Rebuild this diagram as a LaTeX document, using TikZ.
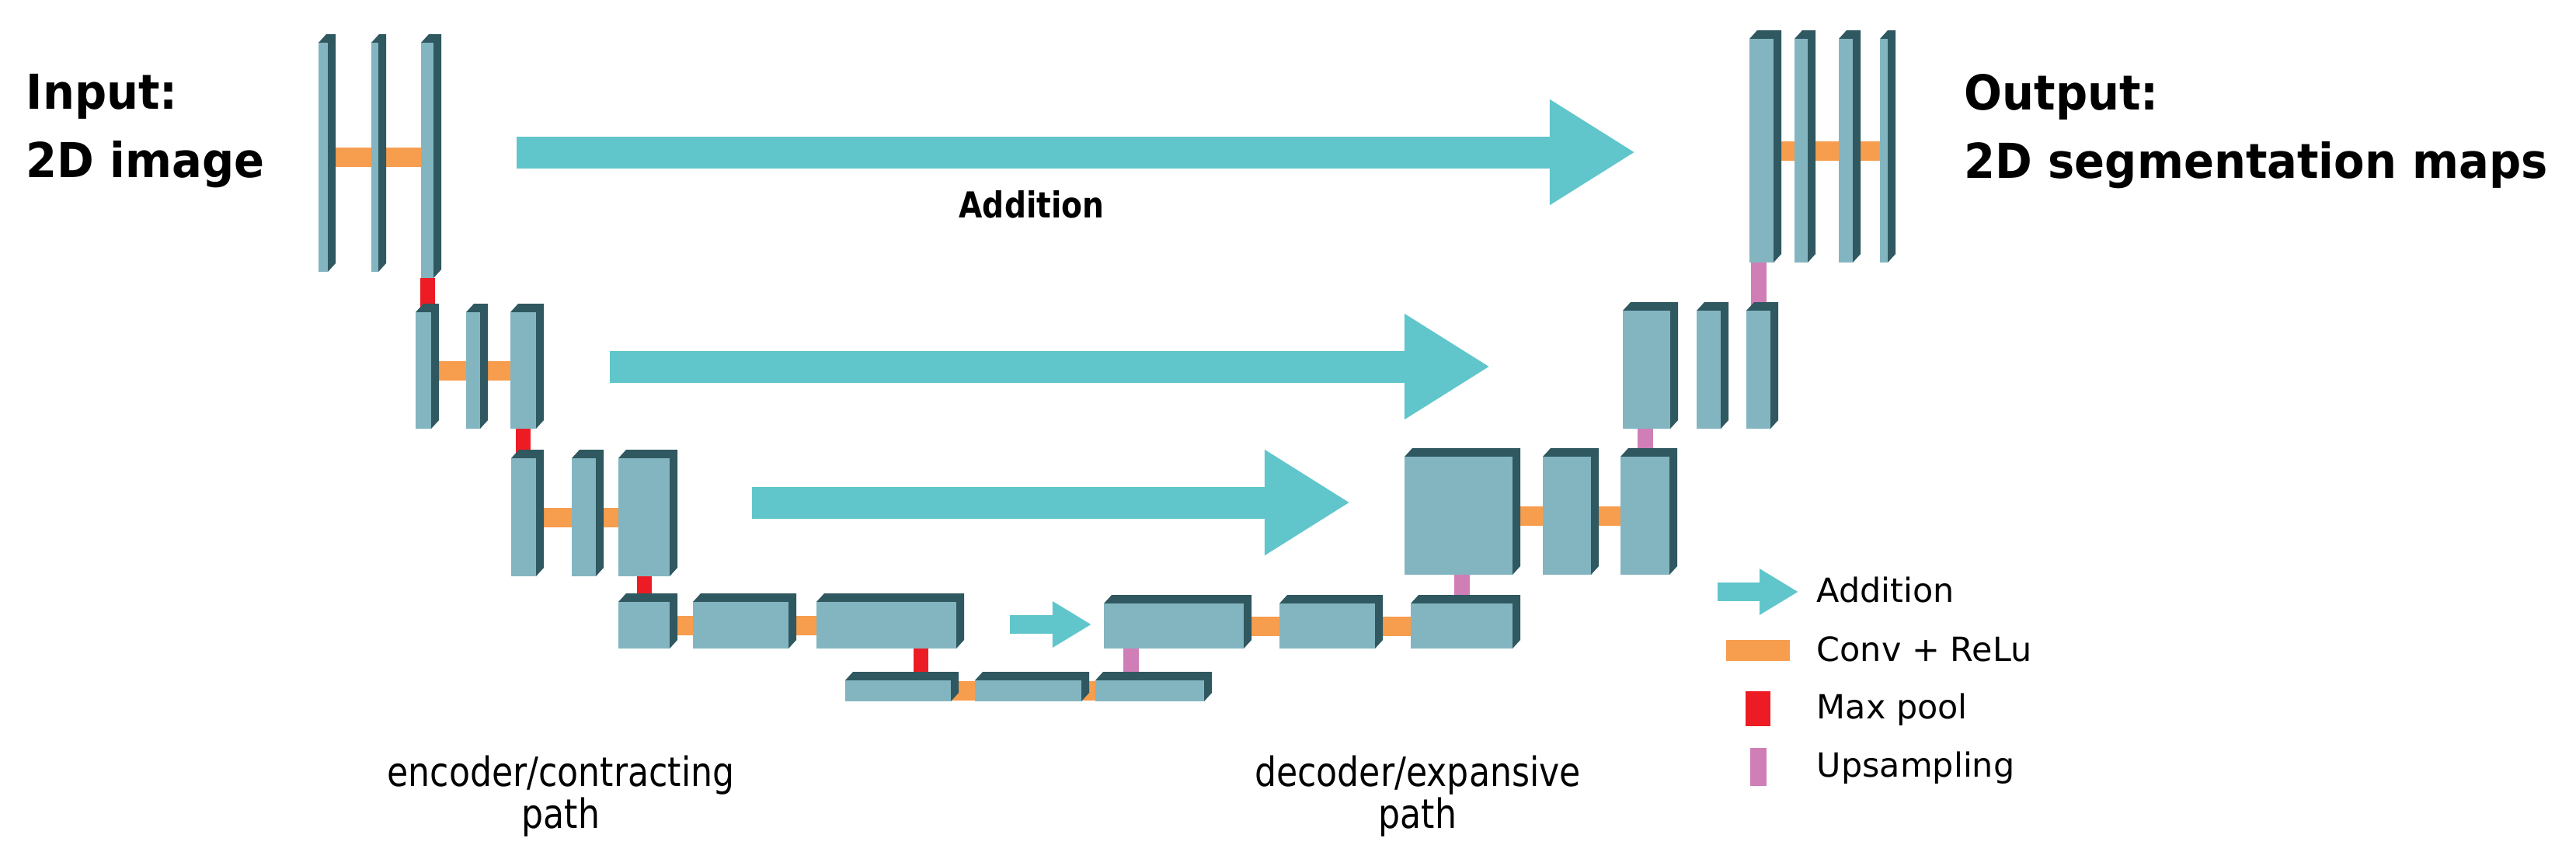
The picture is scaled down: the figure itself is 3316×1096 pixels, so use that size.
\documentclass[tikz,border=0pt]{standalone}
\usepackage{fontspec}
\setmainfont{DejaVu Sans}
\newfontfamily\narrowfont{DejaVu Sans}[FakeStretch=0.85]
\newfontfamily\headfont{DejaVu Sans}[FakeStretch=0.93]
\usetikzlibrary{calc,fit,backgrounds,arrows.meta}
\definecolor{blkfront}{RGB}{131,181,193}
\definecolor{blkdark}{RGB}{47,88,96}
\definecolor{convorange}{RGB}{247,157,78}
\definecolor{poolred}{RGB}{237,28,36}
\definecolor{uppink}{RGB}{208,126,182}
\definecolor{addcyan}{RGB}{96,198,203}
\tikzset{
  blk/.style={fill=blkfront, inner sep=0pt, outer sep=0pt,
    append after command={\pgfextra{\fill[blkdark]
      (\tikzlastnode.north west) -- ++(10,-11)
      -- ($(\tikzlastnode.north east)+(10,-11)$)
      -- ($(\tikzlastnode.south east)+(10,-11)$)
      -- (\tikzlastnode.south east) -- (\tikzlastnode.north east) -- cycle;}}},
  conv/.style={convorange, line width=0.25cm},
  pool/.style={poolred, line width=0.19cm},
  upsamp/.style={uppink, line width=0.2cm},
  addarrow/.style={addcyan, line width=0.41cm, -{Triangle[length=1.1cm,width=1.28cm]}},
  addsmall/.style={addcyan, line width=0.235cm, -{Triangle[length=0.5cm,width=0.56cm]}},
  title/.style={inner sep=0pt, align=left, anchor=north west,
    font=\headfont\bfseries\fontsize{17.6}{25}\selectfont},
  pathlbl/.style={inner sep=0pt, align=center, anchor=north,
    font=\narrowfont\fontsize{14.8}{14.2}\selectfont},
  legtext/.style={inner sep=0pt, anchor=base west, font=\fontsize{12.2}{14}\selectfont}
}

\begin{document}
\begin{tikzpicture}[x=0.01cm, y=-0.01cm]
    \useasboundingbox (0,0) rectangle (3316,1096);
    % contracting side
    \node[blk, fit={(410,55) (422,350)}] (e1a) {};
    \node[blk, fit={(478,55) (487,350)}] (e1b) {};
    \node[blk, fit={(542,55) (558,358)}] (e1c) {};
    \node[blk, fit={(535,402) (555,552)}] (e2a) {};
    \node[blk, fit={(600,402) (618,552)}] (e2b) {};
    \node[blk, fit={(657,402) (690,552)}] (e2c) {};
    \node[blk, fit={(658,590) (690,742)}] (e3a) {};
    \node[blk, fit={(736,590) (767,742)}] (e3b) {};
    \node[blk, fit={(796,590) (862,742)}] (e3c) {};
    \node[blk, fit={(796,775) (862,835)}] (e4a) {};
    \node[blk, fit={(892,775) (1015,835)}] (e4b) {};
    \node[blk, fit={(1051,775) (1231,835)}] (e4c) {};
    \node[blk, fit={(1088,876) (1224,903)}] (ba) {};
    \node[blk, fit={(1255,876) (1392,903)}] (bb) {};
    \node[blk, fit={(1410,876) (1550,903)}] (bc) {};
    % expansive side
    \node[blk, fit={(1421,777) (1601,835)}] (d4a) {};
    \node[blk, fit={(1647,777) (1770,835)}] (d4b) {};
    \node[blk, fit={(1816,777) (1947,835)}] (d4c) {};
    \node[blk, fit={(1808,588) (1947,740)}] (d3a) {};
    \node[blk, fit={(1986,588) (2048,740)}] (d3b) {};
    \node[blk, fit={(2086,588) (2149,740)}] (d3c) {};
    \node[blk, fit={(2089,400) (2150,552)}] (d2a) {};
    \node[blk, fit={(2184,400) (2215,552)}] (d2b) {};
    \node[blk, fit={(2248,400) (2279,552)}] (d2c) {};
    \node[blk, fit={(2252,50) (2283,338)}] (o1) {};
    \node[blk, fit={(2310,50) (2327,338)}] (o2) {};
    \node[blk, fit={(2367,50) (2385,338)}] (o3) {};
    \node[blk, fit={(2420,50) (2430,338)}] (o4) {};
    \begin{scope}[on background layer]
        \draw[conv] (e1a) -- (e1a -| e1c);
        \draw[conv] (e2a) -- (e2a -| e2c);
        \draw[conv] (e3a) -- (e3a -| e3c);
        \draw[conv] (e4a) -- (e4a -| e4c);
        \draw[conv] (ba) -- (ba -| bc);
        \draw[conv] (d4a) -- (d4a -| d4c);
        \draw[conv] (d3a) -- (d3a -| d3c);
        \draw[conv] (o1) -- (o1 -| o4);
        \draw[pool] (e1c.south) -- (e1c.south |- e2a.north);
        \draw[pool] (e2c.south) -- (e2c.south |- e3a.north);
        \draw[pool] (e3c.south) -- (e3c.south |- e4a.north);
        \draw[pool] ($(e4c.south)+(44,0)$) -- ($(e4c.south |- ba.north)+(44,0)$);
        \draw[upsamp] ($(bc.north)+(-24,0)$) -- ($(bc.north |- d4a.south)+(-24,0)$);
        \draw[upsamp] (d4c.north) -- (d4c.north |- d3a.south);
        \draw[upsamp] (d3c.north) -- (d3c.north |- d2a.south);
        \draw[upsamp] (d2c.north) -- (d2c.north |- o1.south);
    \end{scope}
    % skip connections
    \coordinate (a1s) at (665,196);
    \coordinate (a1t) at (2105,196);
    \coordinate (a2s) at (785,472);
    \coordinate (a2t) at (1918,472);
    \coordinate (a3s) at (968,647);
    \coordinate (a3t) at (1738,647);
    \coordinate (a4s) at (1300,804);
    \coordinate (a4t) at (1405,804);
    \draw[addarrow] (a1s) -- (a1t);
    \draw[addarrow] (a2s) -- (a2t);
    \draw[addarrow] (a3s) -- (a3t);
    \draw[addsmall] (a4s) -- (a4t);
    \node[anchor=base, inner sep=0pt, font=\narrowfont\bfseries\fontsize{13.1}{15}\selectfont] (addlbl) at (1328,280) {Addition};
    \node[title] (inlbl) at (33,95) {Input:\\2D image};
    \node[title] (outlbl) at (2528,95) {Output:\\2D segmentation maps};
    \node[pathlbl] (enclbl) at (722,972) {encoder/contracting\\path};
    \node[pathlbl] (declbl) at (1825,972) {decoder/expansive\\path};
    % legend
    \coordinate (lgs) at (2211,762);
    \coordinate (lgt) at (2315,762);
    \draw[addsmall] (lgs) -- (lgt);
    \fill[convorange] (2222,824) rectangle (2304,851);
    \fill[poolred] (2247,890) rectangle (2279,935);
    \fill[uppink] (2253,963) rectangle (2274,1012);
    \node[legtext] (lgadd) at (2338,775) {Addition};
    \node[legtext] (lgconv) at (2338,851) {Conv + ReLu};
    \node[legtext] (lgpool) at (2338,925) {Max pool};
    \node[legtext] (lgup) at (2338,1000) {Upsampling};
\end{tikzpicture}
\end{document}
